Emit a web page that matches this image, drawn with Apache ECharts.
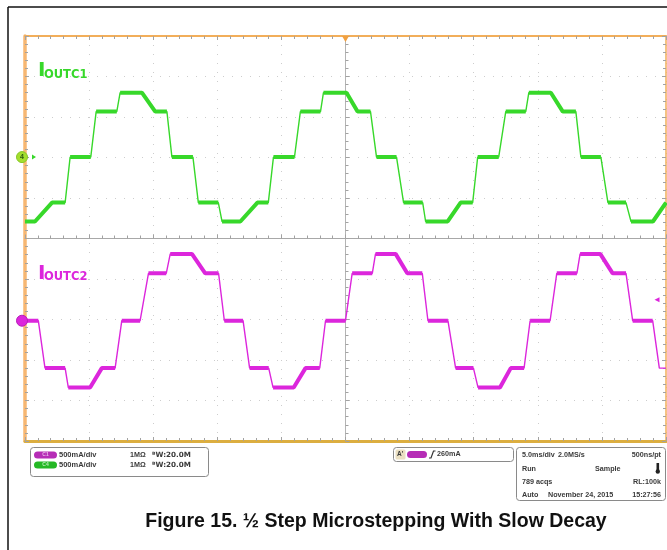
<!DOCTYPE html>
<html><head><meta charset="utf-8">
<script src="https://cdn.jsdelivr.net/npm/echarts@6/dist/echarts.min.js"></script>
<style>html,body{margin:0;padding:0;background:#fff}#c{width:667px;height:550px}</style>
</head><body><div id="c"></div>
<script>
// ---- data (time in ms relative to trigger, current in mA) ----
const greenTime = [-25.00,-24.22,-22.89,-21.87,-21.48,-19.87,-19.45,-17.84,-17.58,-15.88,-14.84,-13.93,-13.54,-11.90,-11.48,-9.92,-9.63,-8.20,-6.87,-6.02,-5.62,-3.98,-3.52,-1.95,-1.72,0.08,0.94,1.95,2.42,3.98,4.53,6.02,6.25,7.97,8.98,9.92,10.31,11.95,12.50,14.06,14.30,16.02,16.95,17.97,18.36,19.92,20.47,21.88,22.27,23.98,25.00];
const greenCurrent = [-795,-795,-562,-562,0,0,562,562,795,795,562,562,0,0,-562,-562,-795,-795,-562,-562,0,0,562,562,795,795,562,562,0,0,-562,-562,-795,-795,-562,-562,0,0,562,562,795,795,562,562,0,0,-562,-562,-795,-795,-562];
const magentaTime = [-25.00,-23.96,-23.44,-21.87,-21.62,-19.92,-19.01,-17.97,-17.45,-16.02,-15.37,-13.98,-13.67,-11.98,-10.94,-9.90,-9.45,-7.99,-7.48,-5.99,-5.65,-4.04,-3.12,-2.01,-1.56,0.00,0.52,2.09,2.34,3.91,4.82,5.99,6.43,7.99,8.59,9.98,10.34,12.05,12.89,13.93,14.40,15.96,16.48,18.05,18.30,19.87,20.84,21.88,22.40,23.96,24.48,25.00];
const magentaCurrent = [0,0,-585,-585,-825,-825,-585,-585,0,0,585,585,825,825,585,585,0,0,-585,-585,-825,-825,-585,-585,0,0,585,585,825,825,585,585,0,0,-585,-585,-825,-825,-585,-585,0,0,585,585,825,825,585,585,0,0,-585,-585];
const greenOffset = 1005;     // channel position (mA on screen scale)
const magentaOffset = -1015;
const triggerLevel = 260;
const traceNames = ['IOUTC1','IOUTC2'];
const channelRows = [['500mA/div','1MΩ','ᴮW:20.0M'],['500mA/div','1MΩ','ᴮW:20.0M']];
const statusRows = [['5.0ms/div','2.0MS/s','500ns/pt'],['Run','Sample',''],['789 acqs','','RL:100k'],['Auto','November 24, 2015','15:27:56']];
const triggerText = '260mA';
const caption = 'Figure 15. ½ Step Microstepping With Slow Decay';

const GREEN = '#37d82a', MAGENTA = '#dc26dc';
function traceData(ts, vs, off){ return ts.map((t,i)=>[t, vs[i]+off]); }
function plateauData(ts, vs, off){
  const out=[]; let lastEnd=null;
  for(let i=0;i<ts.length-1;i++){
    if(ts[i+1]-ts[i] > 0.75){
      if(lastEnd!==i){ if(out.length) out.push([ts[i], null]); out.push([ts[i], vs[i]+off]); }
      out.push([ts[i+1], vs[i+1]+off]); lastEnd=i+1;
    }
  }
  return out;
}
const tick = {color:'#a2a2a2', width:1};
function xAx(extra){ return Object.assign({type:'value', min:-25, max:25, interval:5, axisLabel:{show:false},
  axisTick:{show:true, inside:true, length:4, lineStyle:tick}, minorTick:{show:true, splitNumber:5, length:3, lineStyle:tick},
  splitLine:{show:false}}, extra); }
function yAx(extra){ return Object.assign({type:'value', min:-2500, max:2500, interval:500, axisLabel:{show:false},
  axisTick:{show:true, inside:true, length:4, lineStyle:tick}, minorTick:{show:true, splitNumber:5, length:3, lineStyle:tick},
  splitLine:{show:false}}, extra); }

const chart = echarts.init(document.getElementById('c'));
const PF = 'bold 7.2px "Liberation Sans", Arial, sans-serif';
const txt = (x,y,s,o)=>Object.assign({type:'text', x:x, y:y, z:10, style:Object.assign({text:s, fill:'#3a3a3a', font:PF, textAlign:'left', align:'left', textVerticalAlign:'middle', verticalAlign:'middle'}, o||{})});
const graphics = [
  {type:'line', shape:{x1:8, y1:7, x2:667, y2:7}, style:{stroke:'#111', lineWidth:1.5}},
  {type:'line', shape:{x1:8, y1:7, x2:8, y2:550}, style:{stroke:'#111', lineWidth:1.5}},
  // trace labels
  txt(38, 71, 'I', {fill:GREEN, font:'bold 20px "DejaVu Sans", sans-serif'}),
  txt(44, 75, traceNames[0].slice(1), {fill:GREEN, font:'bold 11.5px "DejaVu Sans", sans-serif'}),
  txt(38, 273.5, 'I', {fill:MAGENTA, font:'bold 20px "DejaVu Sans", sans-serif'}),
  txt(44, 277.5, traceNames[1].slice(1), {fill:MAGENTA, font:'bold 11.5px "DejaVu Sans", sans-serif'}),
  // channel box
  {type:'rect', shape:{x:30.5, y:447.5, width:178, height:29, r:3}, style:{fill:'#fff', stroke:'#8a8a8a', lineWidth:1}},
  {type:'rect', shape:{x:34, y:451.5, width:23, height:7, r:3.5}, style:{fill:'#b62db6'}},
  txt(45.5, 455, 'C1', {fill:'#e9b8e9', font:'bold 5px sans-serif', textAlign:'center', align:'center'}),
  {type:'rect', shape:{x:34, y:461.5, width:23, height:7, r:3.5}, style:{fill:'#25b825'}},
  txt(45.5, 465, 'C4', {fill:'#b8ecb8', font:'bold 5px sans-serif', textAlign:'center', align:'center'}),
  txt(59, 455, channelRows[0][0], {font:'bold 7.5px "Liberation Sans", Arial, sans-serif'}), txt(130, 455, channelRows[0][1]), txt(152, 455, channelRows[0][2], {font:'bold 7.2px "DejaVu Sans", sans-serif'}),
  txt(59, 465, channelRows[1][0], {font:'bold 7.5px "Liberation Sans", Arial, sans-serif'}), txt(130, 465, channelRows[1][1]), txt(152, 465, channelRows[1][2], {font:'bold 7.2px "DejaVu Sans", sans-serif'}),
  // trigger box
  {type:'rect', shape:{x:393.5, y:447.5, width:120, height:14, r:3}, style:{fill:'#fff', stroke:'#8a8a8a', lineWidth:1}},
  {type:'rect', shape:{x:395.5, y:449.5, width:10, height:10, r:1.5}, style:{fill:'#ebe0c2'}},
  txt(397, 454.5, "A'", {font:'bold 6.5px sans-serif'}),
  {type:'rect', shape:{x:407, y:451, width:20, height:7, r:3.5}, style:{fill:'#b62db6'}},
  {type:'polyline', shape:{points:[[429,458],[431,458],[433.5,451],[435.5,451]]}, style:{stroke:'#333', lineWidth:1.2, fill:null}},
  txt(437, 454.5, triggerText),
  // status box
  {type:'rect', shape:{x:516.5, y:447.5, width:149, height:53, r:3}, style:{fill:'#fff', stroke:'#8a8a8a', lineWidth:1}},
  txt(522, 455.5, statusRows[0][0]), txt(558, 455.5, statusRows[0][1]), txt(661, 455.5, statusRows[0][2], {textAlign:'right', align:'right'}),
  txt(522, 469, statusRows[1][0]), txt(595, 469, statusRows[1][1]),
  {type:'rect', shape:{x:656.5, y:463, width:2.6, height:7.5}, style:{fill:'#222'}},
  {type:'circle', shape:{cx:657.8, cy:471.5, r:2.2}, style:{fill:'#222'}},
  txt(522, 482, statusRows[2][0]), txt(661, 482, statusRows[2][2], {textAlign:'right', align:'right'}),
  txt(522, 495, statusRows[3][0]), txt(548, 495, statusRows[3][1]), txt(661, 495, statusRows[3][2], {textAlign:'right', align:'right'}),
  // caption
  txt(376, 522, caption, {fill:'#111', font:'bold 19.5px "Liberation Sans", Arial, sans-serif', textAlign:'center', align:'center'})
];

chart.setOption({
  animation:false,
  backgroundColor:'#fff',
  grid:{left:25, right:1, top:36, bottom:109, containLabel:false},
  xAxis:[
    xAx({position:'bottom', axisLine:{show:true, onZero:true, lineStyle:{color:'#a8a8a8', width:1}},
         splitLine:{show:true, lineStyle:{color:'#cdcdcd', width:1, type:[1,8]}}}),
    xAx({position:'top', axisLine:{show:true, onZero:false, lineStyle:{color:'#f2ae5a', width:2}}}),
    xAx({position:'bottom', axisLine:{show:true, onZero:false, lineStyle:{color:'#dcae40', width:3}}})
  ],
  yAxis:[
    yAx({position:'left', axisLine:{show:true, onZero:true, lineStyle:{color:'#b4b4b4', width:1}},
         splitLine:{show:true, lineStyle:{color:'#cdcdcd', width:1, type:[1,8]}}}),
    yAx({position:'right', axisLine:{show:true, onZero:false, lineStyle:{color:'#f2ae5a', width:1.5}}}),
    yAx({position:'left', axisLine:{show:true, onZero:false, lineStyle:{color:'#f7b772', width:3.5}}})
  ],
  series:[
    {type:'line', name:traceNames[0], data:traceData(greenTime, greenCurrent, greenOffset), symbol:'none', z:3,
     lineStyle:{color:GREEN, width:1.4},
     markPoint:{silent:true, animation:false, data:[
       {coord:[-25, greenOffset], symbol:'circle', symbolSize:11, symbolOffset:[-3,0], itemStyle:{color:'#a4df2e', borderColor:'#86c825', borderWidth:1},
        label:{show:true, formatter:'4', color:'#2d5a10', fontSize:7, fontWeight:'bold'}},
       {coord:[-25, greenOffset], symbol:'triangle', symbolRotate:-90, symbolSize:[5,4], symbolOffset:[9,0], itemStyle:{color:GREEN}, label:{show:false}},
       {coord:[0, 2500], symbol:'triangle', symbolRotate:180, symbolSize:[7,6], symbolOffset:[0,3], itemStyle:{color:'#f0a040'}, label:{show:false}}
     ]}},
    {type:'line', data:plateauData(greenTime, greenCurrent, greenOffset), symbol:'none', z:3, connectNulls:false,
     lineStyle:{color:GREEN, width:4}},
    {type:'line', name:traceNames[1], data:traceData(magentaTime, magentaCurrent, magentaOffset), symbol:'none', z:3,
     lineStyle:{color:MAGENTA, width:1.4},
     markPoint:{silent:true, animation:false, data:[
       {coord:[-25, magentaOffset], symbol:'circle', symbolSize:11, symbolOffset:[-3,0], itemStyle:{color:MAGENTA, borderColor:'#b81cb8', borderWidth:1}, label:{show:false}},
       {coord:[25, magentaOffset+triggerLevel], symbol:'triangle', symbolRotate:90, symbolSize:[5,5], symbolOffset:[-9,0], itemStyle:{color:MAGENTA}, label:{show:false}}
     ]}},
    {type:'line', data:plateauData(magentaTime, magentaCurrent, magentaOffset), symbol:'none', z:3, connectNulls:false,
     lineStyle:{color:MAGENTA, width:4}}
  ],
  graphic:graphics
});
</script></body></html>
